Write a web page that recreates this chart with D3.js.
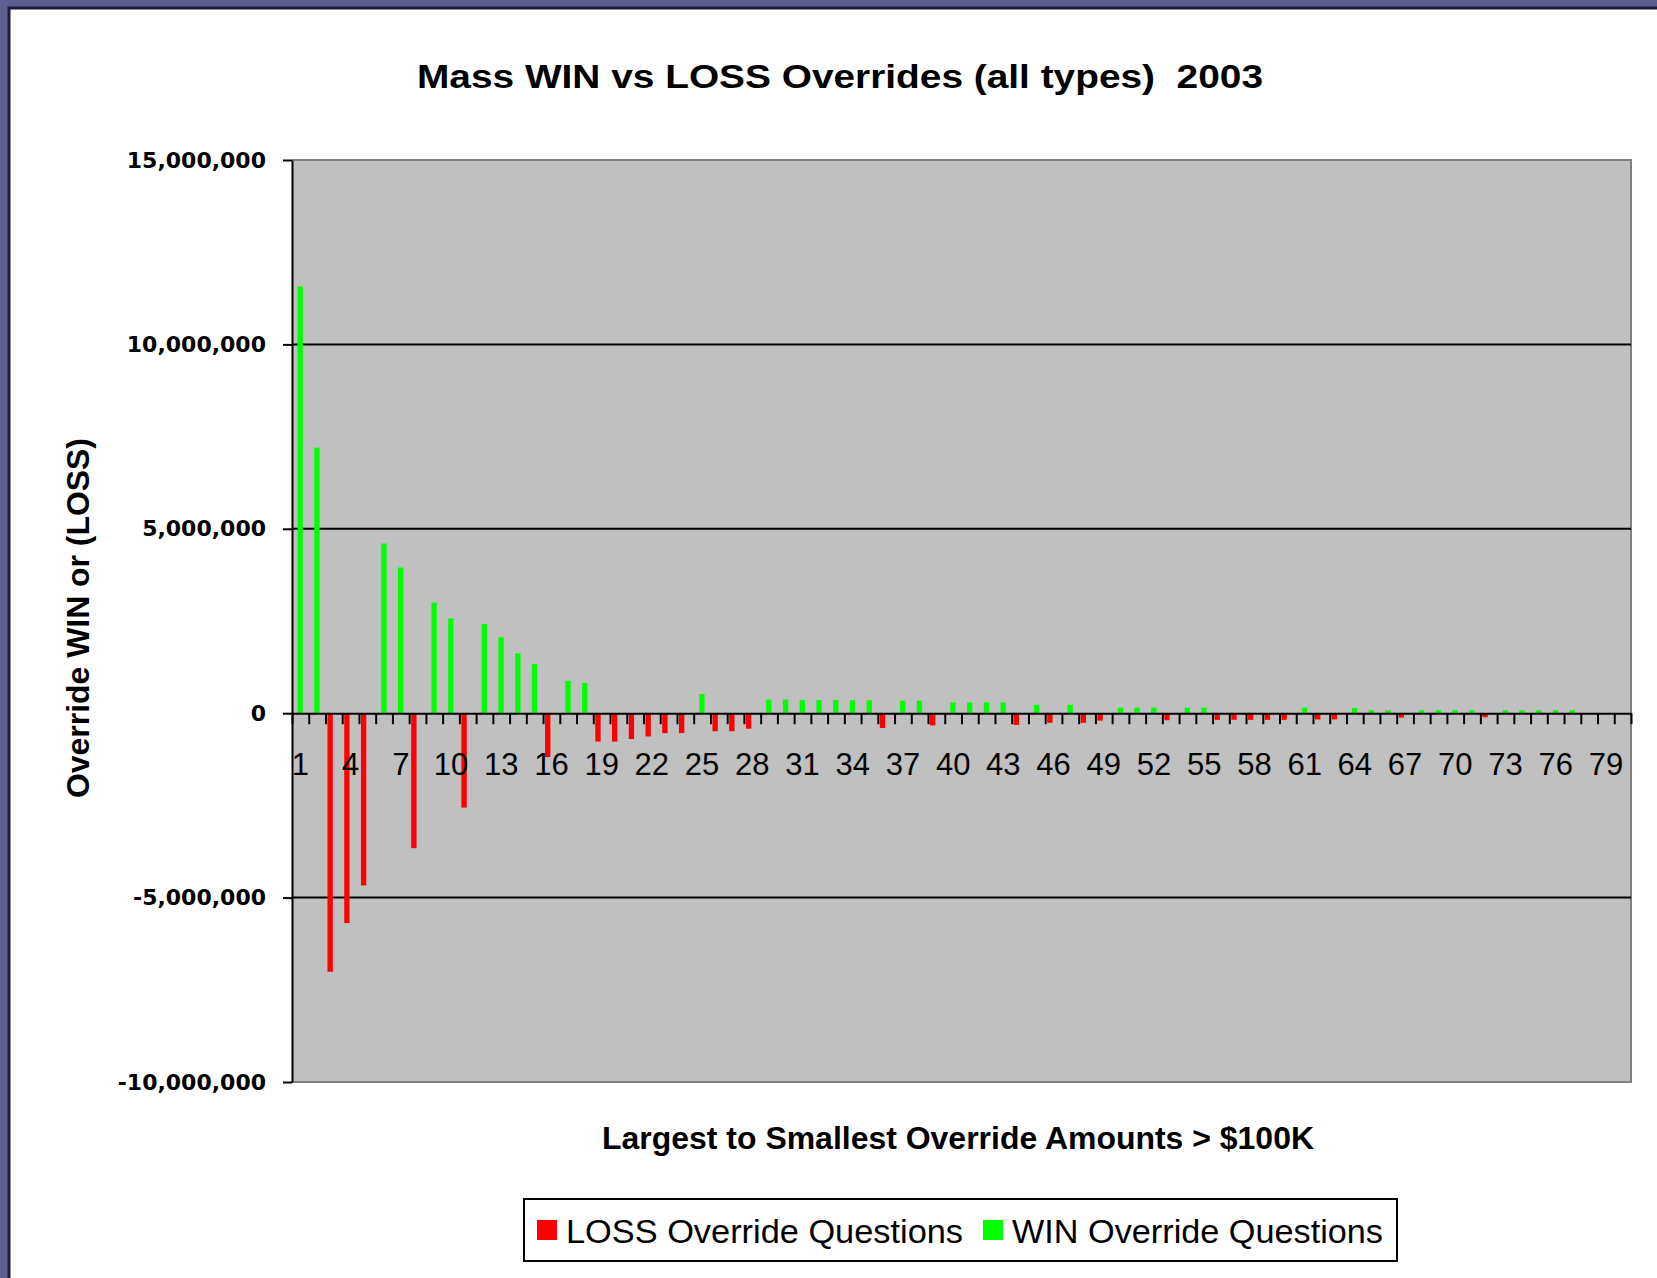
<html>
<head>
<meta charset="utf-8">
<title>Mass WIN vs LOSS Overrides</title>
<style>
  body { margin: 0; background: #5f5e93; }
  svg { display: block; }
  .tick text { fill: #000; }
</style>
<script src="https://cdnjs.cloudflare.com/ajax/libs/d3/7.8.5/d3.min.js"></script>
</head>
<body>
<svg></svg>
<script>
// one entry per override, largest to smallest (millions), null = no bar for that series
const lossValues = [
  null, null, -7.01, -5.69, -4.67, null, null, -3.66, null, null,
  -2.56, null, null, null, null, -1.19, null, null, -0.77, -0.77,
  -0.70, -0.63, -0.54, -0.54, null, -0.49, -0.49, -0.42, null, null,
  null, null, null, null, null, -0.40, null, null, -0.33, null,
  null, null, null, -0.32, null, -0.26, null, -0.26, -0.20, null,
  null, null, -0.19, null, null, -0.18, -0.18, -0.18, -0.18, -0.18,
  null, -0.17, -0.17, null, null, null, -0.12, null, null, null,
  null, -0.11, null, null, null, null, null, null, null, null
];
const winValues = [
  11.57, 7.20, null, null, null, 4.60, 3.95, null, 3.00, 2.57,
  null, 2.42, 2.06, 1.62, 1.33, null, 0.88, 0.82, null, null,
  null, null, null, null, 0.52, null, null, null, 0.37, 0.37,
  0.36, 0.36, 0.36, 0.35, 0.35, null, 0.34, 0.34, null, 0.29,
  0.29, 0.29, 0.29, null, 0.23, null, 0.23, null, null, 0.15,
  0.15, 0.15, null, 0.15, 0.15, null, null, null, null, null,
  0.15, null, null, 0.14, 0.08, 0.08, null, 0.08, 0.08, 0.08,
  0.08, null, 0.08, 0.08, 0.08, 0.08, 0.08, null, null, null
];
const categories = d3.range(1, lossValues.length + 1);
const xTickLabels = [1, 4, 7, 10, 13, 16, 19, 22, 25, 28, 31, 34, 37, 40, 43, 46, 49, 52, 55, 58, 61, 64, 67, 70, 73, 76, 79];
const yTickValues = [-10000000, -5000000, 0, 5000000, 10000000, 15000000];
const seriesNames = ['LOSS', 'WIN'];
const seriesColors = { LOSS: '#ff0000', WIN: '#00ff00' };
const legendLabels = ['LOSS Override Questions', 'WIN Override Questions'];

const W = 1657, H = 1278;
const margin = { top: 160, left: 292 };
const width = 1339, height = 922;

const svg = d3.select('svg').attr('width', W).attr('height', H);

// slide frame + white chart area
svg.append('rect').attr('width', W).attr('height', H).attr('fill', '#5f5e93');
svg.append('rect').attr('x', 9).attr('y', 8).attr('width', W).attr('height', H)
  .attr('fill', '#fff').attr('stroke', '#1e1d3c').attr('stroke-width', 3);

const g = svg.append('g').attr('transform', `translate(${margin.left},${margin.top})`);

const x = d3.scaleBand().domain(categories).range([0, width]).padding(0);
const bw = x.bandwidth();
const xInner = d3.scalePoint().domain(seriesNames).range([bw * 0.12, bw * 0.33]);
const barW = bw * 0.32;
const y = d3.scaleLinear().domain([-10000000, 15000000]).range([height, 0]);

const fmt = d3.formatLocale({ decimal: '.', thousands: ',', grouping: [3], currency: ['$', ''], minus: '-' }).format(',');

// plot background
g.append('rect').attr('width', width).attr('height', height).attr('fill', '#c0c0c0');

// border top / right / bottom
g.append('path')
  .attr('d', `M0,${y(15000000)}H${width}V${y(-10000000)}H0`)
  .attr('fill', 'none').attr('stroke', '#808080').attr('stroke-width', 2);

// gridlines
g.append('g').selectAll('line')
  .data(yTickValues.filter(v => v !== 0 && v !== 15000000 && v !== -10000000))
  .enter().append('line')
  .attr('x1', 0).attr('x2', width)
  .attr('y1', d => y(d)).attr('y2', d => y(d))
  .attr('stroke', '#000').attr('stroke-width', 2);

// bars
const rows = [];
categories.forEach((c, i) => {
  if (lossValues[i] !== null) rows.push({ cat: c, series: 'LOSS', value: lossValues[i] * 1e6 });
  if (winValues[i] !== null) rows.push({ cat: c, series: 'WIN', value: winValues[i] * 1e6 });
});

g.append('g').selectAll('rect')
  .data(rows)
  .enter().append('rect')
  .attr('x', d => x(d.cat) + xInner(d.series))
  .attr('width', barW)
  .attr('y', d => y(Math.max(0, d.value)))
  .attr('height', d => Math.abs(y(d.value) - y(0)))
  .attr('fill', d => seriesColors[d.series]);

// y axis
const yAxis = g.append('g')
  .call(d3.axisLeft(y).tickValues(yTickValues).tickFormat(fmt).tickSize(9).tickSizeOuter(0).tickPadding(17));
yAxis.select('.domain').attr('stroke', '#000').attr('stroke-width', 2);
yAxis.selectAll('.tick line').attr('stroke', '#000').attr('stroke-width', 2);
yAxis.selectAll('.tick text')
  .attr('font-family', '"DejaVu Sans", Verdana, sans-serif')
  .attr('font-weight', 'bold')
  .attr('font-size', 22);

// x axis tick marks at category boundaries
const xEdge = d3.scaleLinear().domain([0, categories.length]).range([0, width]);
const xTicks = g.append('g')
  .attr('transform', `translate(0,${y(0)})`)
  .call(d3.axisBottom(xEdge).ticks(categories.length).tickFormat('').tickSize(11).tickSizeOuter(0));
xTicks.select('.domain').attr('stroke', '#000').attr('stroke-width', 2);
xTicks.selectAll('.tick line').attr('stroke', '#000').attr('stroke-width', 2);

// x axis labels every third category
const xLabels = g.append('g')
  .attr('transform', `translate(0,${y(0)})`)
  .call(d3.axisBottom(x).tickValues(xTickLabels).tickSize(0).tickPadding(40));
xLabels.select('.domain').remove();
xLabels.selectAll('.tick text')
  .attr('font-family', '"Liberation Sans", Arial, sans-serif')
  .attr('font-size', 31);

// titles
svg.append('text')
  .attr('x', 840).attr('y', 88)
  .attr('text-anchor', 'middle')
  .style('white-space', 'pre')
  .attr('font-family', '"Liberation Sans", Arial, sans-serif')
  .attr('font-weight', 'bold').attr('font-size', 33)
  .attr('textLength', 846).attr('lengthAdjust', 'spacingAndGlyphs')
  .text('Mass WIN vs LOSS Overrides (all types)  2003');

svg.append('text')
  .attr('transform', 'translate(89,618) rotate(-90)')
  .attr('text-anchor', 'middle')
  .attr('font-family', '"Liberation Sans", Arial, sans-serif')
  .attr('font-weight', 'bold').attr('font-size', 31)
  .attr('textLength', 360).attr('lengthAdjust', 'spacingAndGlyphs')
  .text('Override WIN or (LOSS)');

svg.append('text')
  .attr('x', 958).attr('y', 1149)
  .attr('text-anchor', 'middle')
  .attr('font-family', '"Liberation Sans", Arial, sans-serif')
  .attr('font-weight', 'bold').attr('font-size', 31)
  .attr('textLength', 712).attr('lengthAdjust', 'spacingAndGlyphs')
  .text('Largest to Smallest Override Amounts > $100K');

// legend
const legend = svg.append('g');
legend.append('rect')
  .attr('x', 524).attr('y', 1199).attr('width', 873).attr('height', 62)
  .attr('fill', '#fff').attr('stroke', '#000').attr('stroke-width', 2);

const legendX = [537, 983];
const legendTextLen = [397, 371];
seriesNames.forEach((s, i) => {
  legend.append('rect')
    .attr('x', legendX[i]).attr('y', 1220).attr('width', 20).attr('height', 20)
    .attr('fill', seriesColors[s]);
  legend.append('text')
    .attr('x', legendX[i] + 29).attr('y', 1243)
    .attr('font-family', '"Liberation Sans", Arial, sans-serif')
    .attr('font-size', 33)
    .attr('textLength', legendTextLen[i]).attr('lengthAdjust', 'spacingAndGlyphs')
    .text(legendLabels[i]);
});
</script>
</body>
</html>
